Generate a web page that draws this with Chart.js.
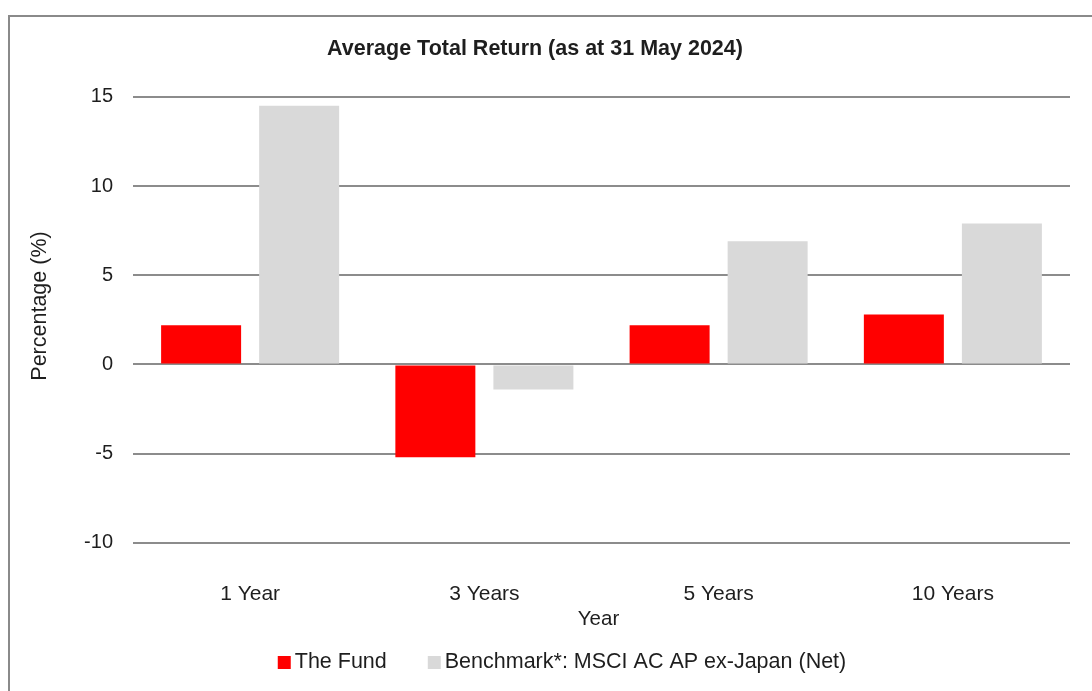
<!DOCTYPE html>
<html>
<head>
<meta charset="utf-8">
<script src="https://cdn.jsdelivr.net/npm/chart.js@4.4.1/dist/chart.umd.min.js"></script>
<style>
  html, body { margin: 0; padding: 0; background: #fff; }
  #wrap { position: relative; width: 1092px; height: 691px; }
</style>
</head>
<body>
<div id="wrap"><canvas id="chart" width="1092" height="691"></canvas></div>
<script>
const categories = ["1 Year", "3 Years", "5 Years", "10 Years"];
const fundValues = [2.2, -5.2, 2.2, 2.8];
const benchmarkValues = [14.5, -1.4, 6.9, 7.9];
const seriesNames = ["The Fund", "Benchmark*: MSCI AC AP ex-Japan (Net)"];
const seriesColors = ["#ff0000", "#d9d9d9"];
const xTitle = "Year";
const yTitle = "Percentage (%)";

const FONT = "'Liberation Sans', Arial, sans-serif";
const TEXT = "#1e1e1e";
const GRID = "#8c8c8c";

// frame round the whole chart, open to the right and bottom like the source crop
const framePlugin = {
  id: "frame",
  beforeDraw(chart) {
    const ctx = chart.ctx;
    ctx.save();
    ctx.strokeStyle = "#8a8a8a";
    ctx.lineWidth = 2;
    ctx.strokeRect(9, 16, 1200, 1000);
    ctx.restore();
  }
};

// axis titles placed by hand (the y title sits a bit above the plot's middle)
const axisTitlePlugin = {
  id: "axisTitles",
  afterDraw(chart) {
    const ctx = chart.ctx;
    const area = chart.chartArea;
    ctx.save();
    ctx.fillStyle = TEXT;
    ctx.textAlign = "center";
    ctx.textBaseline = "middle";
    ctx.font = "20.5px " + FONT;
    ctx.fillText(xTitle, (area.left + area.right) / 2 - 3, 619);
    ctx.translate(40, 306);
    ctx.rotate(-Math.PI / 2);
    ctx.font = "21.5px " + FONT;
    ctx.fillText(yTitle, 0, 0);
    ctx.restore();
  }
};

// legend drawn by hand so the swatch sits right against its label
const legendPlugin = {
  id: "customLegend",
  afterDraw(chart) {
    const ctx = chart.ctx;
    ctx.save();
    ctx.font = "21.5px " + FONT;
    ctx.textBaseline = "middle";
    const box = 12, textGap = 5, itemGap = 41;
    const items = chart.data.datasets.map(ds => ({
      label: ds.label, color: ds.backgroundColor, w: box + textGap + ctx.measureText(ds.label).width
    }));
    const total = items.reduce((s, it) => s + it.w, 0) + itemGap * (items.length - 1);
    let x = 562 - total / 2;
    const y = 662;
    items.forEach(it => {
      ctx.fillStyle = it.color;
      ctx.fillRect(x, y - 6, box + 1, box + 1);
      ctx.fillStyle = TEXT;
      ctx.fillText(it.label, x + box + textGap, y);
      x += it.w + itemGap;
    });
    ctx.restore();
  }
};

new Chart(document.getElementById("chart"), {
  type: "bar",
  data: {
    labels: categories,
    datasets: [
      { label: seriesNames[0], data: fundValues, backgroundColor: seriesColors[0] },
      { label: seriesNames[1], data: benchmarkValues, backgroundColor: seriesColors[1] }
    ]
  },
  options: {
    responsive: false,
    animation: false,
    devicePixelRatio: 1,
    categoryPercentage: 0.837,
    barPercentage: 0.816,
    layout: { padding: { left: 0, right: 22, top: 0, bottom: 45 } },
    plugins: {
      legend: { display: false },
      tooltip: { enabled: false },
      title: {
        display: true,
        text: "Average Total Return (as at 31 May 2024)",
        color: TEXT,
        font: { family: FONT, size: 21.5, weight: "bold" },
        padding: { top: 36, bottom: 35 }
      }
    },
    scales: {
      x: {
        grid: { display: false, drawTicks: false },
        border: { display: false },
        ticks: { color: TEXT, font: { family: FONT, size: 21 }, padding: 39 }
      },
      y: {
        min: -10,
        max: 15,
        afterFit: scale => { scale.width = 133; },
        grid: { color: GRID, lineWidth: 2, drawTicks: false },
        border: { display: false },
        ticks: { stepSize: 5, color: TEXT, font: { family: FONT, size: 20 }, padding: 20 }
      }
    }
  },
  plugins: [framePlugin, axisTitlePlugin, legendPlugin]
});
</script>
</body>
</html>
